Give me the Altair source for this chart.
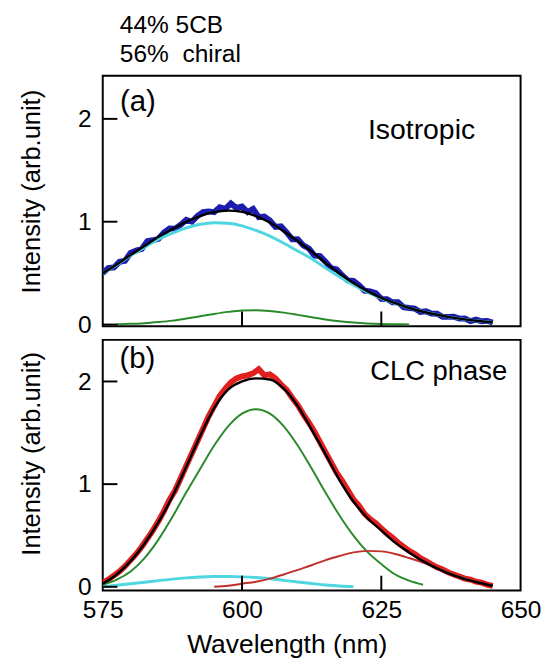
import altair as alt
import pandas as pd

FONT = "Liberation Sans"

# ---------------- data ----------------
wl_1nm = list(range(575, 646))
wl_fit = [575, 577.5, 580, 582.5, 585, 587.5, 590, 592.5, 595, 597.5, 600, 602.5,
          605, 607.5, 610, 612.5, 615, 617.5, 620, 622.5, 625, 627.5, 630, 632.5,
          635, 637.5, 640, 642.5, 645]

# (a) Isotropic
iso_data = [0.50, 0.55, 0.555, 0.61, 0.62, 0.697, 0.72, 0.735, 0.81, 0.82, 0.834, 0.895,
            0.935, 0.933, 0.97, 1.018, 1.00, 1.055, 1.093, 1.10, 1.093, 1.14, 1.126, 1.178,
            1.134, 1.147, 1.093, 1.125, 1.045, 1.05, 1.012, 0.95, 0.955, 0.897, 0.828,
            0.829, 0.77, 0.74, 0.67, 0.665, 0.61, 0.548, 0.537, 0.478, 0.43, 0.424, 0.382,
            0.33, 0.322, 0.305, 0.25, 0.248, 0.217, 0.218, 0.169, 0.161, 0.156, 0.122,
            0.129, 0.107, 0.105, 0.075, 0.075, 0.076, 0.058, 0.06, 0.034, 0.048, 0.032,
            0.036, 0.02]
iso_fit = [0.50, 0.583, 0.677, 0.763, 0.854, 0.928, 0.998, 1.055, 1.093, 1.108, 1.097,
           1.055, 0.992, 0.906, 0.809, 0.711, 0.599, 0.497, 0.404, 0.325, 0.26, 0.208,
           0.161, 0.125, 0.095, 0.07, 0.05, 0.035, 0.02]
iso_cyan = [0.50, 0.58, 0.67, 0.75, 0.83, 0.89, 0.94, 0.975, 0.99, 0.985, 0.96, 0.915,
            0.86, 0.79, 0.715, 0.64, 0.55, 0.465, 0.385, 0.315, 0.255, 0.205, 0.16,
            0.125, 0.095, 0.07, 0.05, 0.035, 0.02]
iso_green_wl = [577.5, 580, 582.5, 585, 587.5, 590, 592.5, 595, 597.5, 600, 602.5, 605,
                607.5, 610, 612.5, 615, 617.5, 620, 622.5, 625, 627.5, 630]
iso_green = [0.003, 0.007, 0.013, 0.024, 0.038, 0.058, 0.080, 0.103, 0.123, 0.137, 0.14,
             0.132, 0.116, 0.094, 0.071, 0.049, 0.032, 0.019, 0.010, 0.005, 0.003, 0.001]

# (b) CLC phase
clc_data = [0.04, 0.07, 0.11, 0.15, 0.20, 0.26, 0.32, 0.39, 0.47, 0.55, 0.64, 0.74,
            0.85, 0.94, 1.06, 1.18, 1.30, 1.42, 1.54, 1.66, 1.76, 1.86, 1.93, 1.99,
            2.03, 2.05, 2.06, 2.08, 2.12, 2.06, 2.07, 2.03, 1.97, 1.92, 1.84, 1.77,
            1.68, 1.60, 1.51, 1.41, 1.31, 1.21, 1.11, 1.03, 0.94, 0.85, 0.79, 0.71,
            0.66, 0.62, 0.57, 0.52, 0.48, 0.43, 0.39, 0.35, 0.32, 0.28, 0.25, 0.22,
            0.19, 0.17, 0.14, 0.12, 0.10, 0.08, 0.07, 0.05, 0.04, 0.02, 0.01]
clc_fit = [0.03, 0.12, 0.25, 0.42, 0.63, 0.88, 1.17, 1.47, 1.74, 1.92, 2.00, 2.03, 2.02,
           1.93, 1.76, 1.53, 1.29, 1.04, 0.83, 0.67, 0.55, 0.43, 0.335, 0.25, 0.18, 0.12,
           0.075, 0.04, 0.01]
clc_green_wl = [575, 577.5, 580, 582.5, 585, 587.5, 590, 592.5, 595, 597.5, 600, 602.5,
                605, 607.5, 610, 612.5, 615, 617.5, 620, 622.5, 625, 627.5, 630, 632.5]
clc_green = [0.02, 0.07, 0.15, 0.28, 0.46, 0.68, 0.92, 1.15, 1.376, 1.563, 1.687, 1.73,
             1.687, 1.563, 1.376, 1.152, 0.917, 0.694, 0.498, 0.34, 0.221, 0.12, 0.06, 0.02]
clc_cyan_wl = [575, 577.5, 580, 582.5, 585, 587.5, 590, 592.5, 595, 597.5, 600, 602.5,
               605, 607.5, 610, 612.5, 615, 617.5, 620]
clc_cyan = [0.0, 0.015, 0.03, 0.045, 0.06, 0.075, 0.087, 0.095, 0.10, 0.10, 0.097, 0.09,
            0.078, 0.063, 0.047, 0.032, 0.018, 0.008, 0.002]
clc_red_wl = [595, 597.5, 600, 602.5, 605, 607.5, 610, 612.5, 615, 617.5, 620, 622.5,
              625, 627.5, 630, 632.5, 635, 637.5, 640, 642.5, 645]
clc_red = [0.0, 0.01, 0.03, 0.05, 0.08, 0.12, 0.165, 0.21, 0.26, 0.30, 0.335, 0.35,
           0.345, 0.32, 0.28, 0.235, 0.185, 0.135, 0.09, 0.05, 0.015]

header_lines = ["44% 5CB", "56% \u00a0chiral"]
panel_tags = ["(a)", "(b)"]
phase_names = ["Isotropic", "CLC phase"]
x_ticks = [575, 600, 625, 650]
inner_x_ticks = [600, 625]
y_ticks = [0, 1, 2]

X_DOMAIN = [575, 650]
TOP_DOMAIN = [-0.016, 2.42]
BOT_DOMAIN = [-0.035, 2.405]
W, H = 427, 256
TICK_PX = 15


def df(x, y):
    return pd.DataFrame({"wl": x, "v": y})


def x_enc(bottom):
    kw = dict(values=x_ticks, ticks=False, domain=False, grid=False, labels=bottom)
    if bottom:
        kw.update(title="Wavelength (nm)", labelFontSize=25, labelPadding=8,
                  labelFlush=False, labelColor="black", titleFontSize=27,
                  titleFontWeight="normal", titleColor="black", titleX=188, titleY=63,
                  titleAlign="center", titleBaseline="alphabetic")
    else:
        kw.update(title="")
    return alt.X("wl:Q", scale=alt.Scale(domain=X_DOMAIN, nice=False, zero=False),
                 axis=alt.Axis(**kw))


def y_enc(domain, title_y):
    return alt.Y("v:Q", scale=alt.Scale(domain=domain, nice=False, zero=False),
                 axis=alt.Axis(values=y_ticks, format="d", ticks=False, domain=False,
                               grid=False, labelFontSize=25, labelPadding=12,
                               labelColor="black",
                               title="Intensity (arb.unit)", titleFontSize=26,
                               titleFontWeight="normal", titleColor="black",
                               titleX=-65, titleY=title_y, titleAngle=270,
                               titleAlign="center", titleBaseline="alphabetic"))


def line(data, color, width, bottom, domain, title_y, interp="monotone"):
    return alt.Chart(data).mark_line(color=color, strokeWidth=width, clip=True,
                                     interpolate=interp).encode(
        x=x_enc(bottom), y=y_enc(domain, title_y), order="wl:Q")


def ticks(bottom, domain, title_y):
    # inward tick marks, drawn on the data scales
    x_len = TICK_PX * (X_DOMAIN[1] - X_DOMAIN[0]) / W
    y_len = TICK_PX * (domain[1] - domain[0]) / H
    yt = alt.Chart(pd.DataFrame({"v": y_ticks})).mark_rule(
        color="black", strokeWidth=2).encode(
        y=y_enc(domain, title_y), x=alt.datum(X_DOMAIN[0]),
        x2=alt.datum(X_DOMAIN[0] + x_len))
    xt = alt.Chart(pd.DataFrame({"wl": inner_x_ticks})).mark_rule(
        color="black", strokeWidth=2).encode(
        x=x_enc(bottom), y=alt.datum(domain[0]), y2=alt.datum(domain[0] + y_len))
    return [yt, xt]


def label(text, x, y, size):
    return alt.Chart(pd.DataFrame({"t": [text]})).mark_text(
        align="left", baseline="alphabetic", fontSize=size, font=FONT, color="black"
    ).encode(x=alt.datum(x), y=alt.datum(y), text="t:N")


top = alt.layer(
    line(df(wl_1nm, iso_data), "#1c1cae", 6, False, TOP_DOMAIN, 118, "linear"),
    line(df(wl_fit, iso_cyan), "#4fd6e0", 3, False, TOP_DOMAIN, 118),
    line(df(iso_green_wl, iso_green), "#2a8a2a", 2, False, TOP_DOMAIN, 118),
    line(df(wl_fit, iso_fit), "#000000", 2.5, False, TOP_DOMAIN, 118),
    *ticks(False, TOP_DOMAIN, 118),
    label(panel_tags[0], 578.1, 2.08, 30),
    label(phase_names[0], 622.6, 1.80, 29),
).properties(
    width=W, height=H,
    title=alt.TitleParams(text=header_lines, anchor="start", frame="group", dx=17.5,
                          fontSize=25, font=FONT, fontWeight="normal", lineHeight=30,
                          offset=9, color="black"),
)

bottom = alt.layer(
    line(df(wl_1nm, clc_data), "#e21f1f", 6, True, BOT_DOMAIN, 116, "linear"),
    line(df(clc_green_wl, clc_green), "#2a8a2a", 2, True, BOT_DOMAIN, 116),
    line(df(clc_cyan_wl, clc_cyan), "#4fd6e0", 3, True, BOT_DOMAIN, 116),
    line(df(clc_red_wl, clc_red), "#c0302a", 2, True, BOT_DOMAIN, 116),
    line(df(wl_fit, clc_fit), "#000000", 2.5, True, BOT_DOMAIN, 116),
    *ticks(True, BOT_DOMAIN, 116),
    label(panel_tags[1], 578.0, 2.135, 30),
    label(phase_names[1], 623.0, 2.01, 28),
).properties(width=W, height=H)

chart = alt.vconcat(top, bottom, spacing=0).properties(
    padding={"left": 17, "top": 5, "right": 5, "bottom": 5}
).configure(font=FONT).configure_view(stroke="black", strokeWidth=2).configure_axis(
    labelFont=FONT, titleFont=FONT
)

chart.save("out.html", embed_options={"renderer": "svg", "actions": False})
